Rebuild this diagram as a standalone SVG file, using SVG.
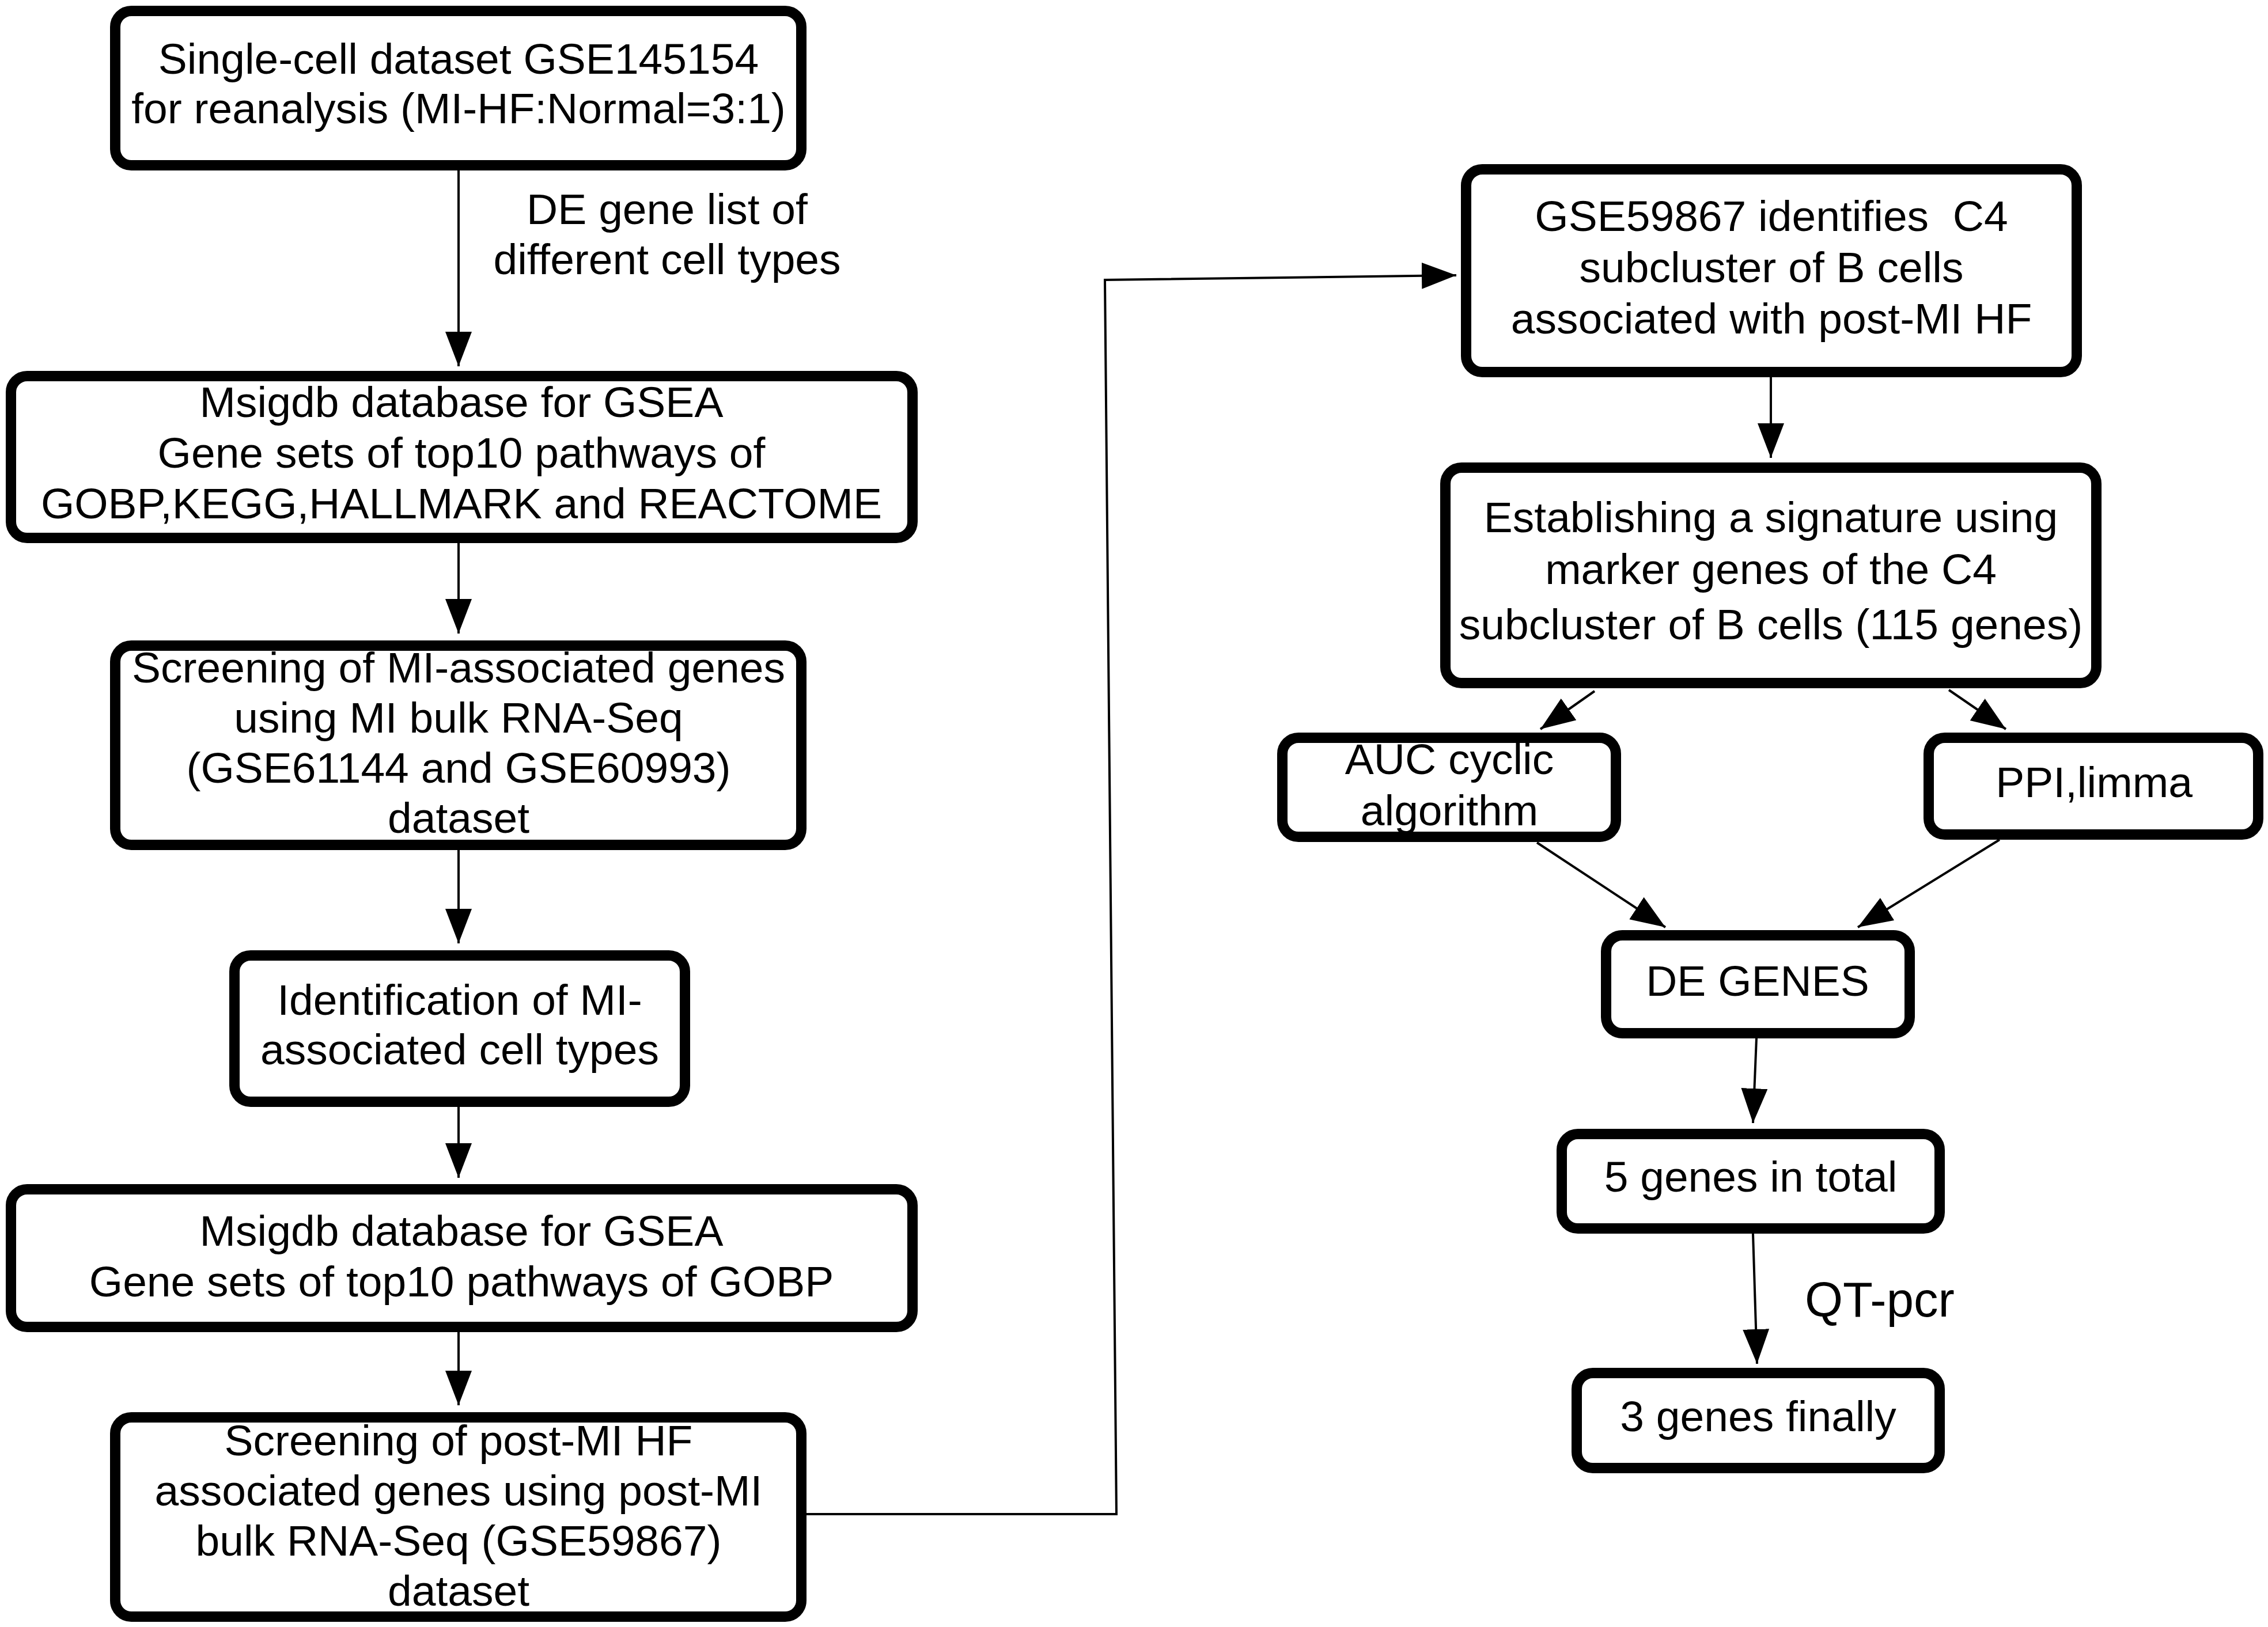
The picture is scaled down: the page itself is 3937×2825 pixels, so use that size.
<svg xmlns="http://www.w3.org/2000/svg" width="3937" height="2825" viewBox="0 0 3937 2825">
<defs>
<marker id="ah" markerUnits="userSpaceOnUse" markerWidth="62" markerHeight="48" refX="60" refY="23" orient="auto">
<path d="M0,0 L60,23 L0,46 Z" fill="#000"/>
</marker>
<style>
.box{fill:#fff;stroke:#000;stroke-width:18;}
.t{font-family:"Liberation Sans",Arial,Helvetica,sans-serif;font-size:75px;fill:#000;text-anchor:middle;}
.c{fill:none;stroke:#000;stroke-width:4;marker-end:url(#ah);}
</style>
</defs>
<rect width="3937" height="2825" fill="#fff"/>
<g id="connectors">
<line class="c" x1="796" y1="296" x2="796" y2="636"/>
<line class="c" x1="796" y1="943" x2="796" y2="1100"/>
<line class="c" x1="796" y1="1476" x2="796" y2="1638"/>
<line class="c" x1="796" y1="1922" x2="796" y2="2045"/>
<line class="c" x1="796" y1="2313" x2="796" y2="2440"/>
<polyline class="c" points="1400,2629 1938,2629 1918,486 2528,478"/>
<line class="c" x1="3074" y1="655" x2="3074" y2="795"/>
<line class="c" x1="2768" y1="1200" x2="2674" y2="1266"/>
<line class="c" x1="3383" y1="1198" x2="3482" y2="1266"/>
<line class="c" x1="2668" y1="1463" x2="2891" y2="1610"/>
<line class="c" x1="3471" y1="1458" x2="3225" y2="1610"/>
<line class="c" x1="3049" y1="1803" x2="3043" y2="1950"/>
<line class="c" x1="3043" y1="2142" x2="3050" y2="2368"/>
<text class="t" x="1158" y="389">DE gene list of</text>
<text class="t" x="1158" y="476">different cell types</text>
<text class="t" x="3133" y="2286" style="text-anchor:start;font-size:85px">QT-pcr</text>
</g>
<g id="n1">
<rect class="box" x="200" y="19" width="1191" height="268" rx="28"/>
<text class="t" x="796" y="128">Single-cell dataset GSE145154</text>
<text class="t" x="796" y="214">for reanalysis (MI-HF:Normal=3:1)</text>
</g>
<g id="n2">
<rect class="box" x="19" y="653" width="1565" height="281" rx="28"/>
<text class="t" x="801" y="724">Msigdb database for GSEA</text>
<text class="t" x="801" y="812">Gene sets of top10 pathways of</text>
<text class="t" x="801" y="900">GOBP,KEGG,HALLMARK and REACTOME</text>
</g>
<g id="n3">
<rect class="box" x="200" y="1121" width="1191" height="346" rx="28"/>
<text class="t" x="796" y="1185">Screening of MI-associated genes</text>
<text class="t" x="796" y="1272">using MI bulk RNA-Seq</text>
<text class="t" x="796" y="1359">(GSE61144 and GSE60993)</text>
<text class="t" x="796" y="1446">dataset</text>
</g>
<g id="n4">
<rect class="box" x="407" y="1659" width="782" height="254" rx="28"/>
<text class="t" x="798" y="1762">Identification of MI-</text>
<text class="t" x="798" y="1848">associated cell types</text>
</g>
<g id="n5">
<rect class="box" x="19" y="2065" width="1565" height="239" rx="28"/>
<text class="t" x="801" y="2163">Msigdb database for GSEA</text>
<text class="t" x="801" y="2251">Gene sets of top10 pathways of GOBP</text>
</g>
<g id="n6">
<rect class="box" x="200" y="2461" width="1191" height="346" rx="28"/>
<text class="t" x="796" y="2527">Screening of post-MI HF</text>
<text class="t" x="796" y="2614">associated genes using post-MI</text>
<text class="t" x="796" y="2701">bulk RNA-Seq (GSE59867)</text>
<text class="t" x="796" y="2788">dataset</text>
</g>
<g id="n7">
<rect class="box" x="2545" y="294" width="1060" height="352" rx="28"/>
<text class="t" x="3075" y="401" xml:space="preserve">GSE59867 identifies  C4</text>
<text class="t" x="3075" y="490">subcluster of B cells</text>
<text class="t" x="3075" y="579">associated with post-MI HF</text>
</g>
<g id="n8">
<rect class="box" x="2509" y="812" width="1130" height="374" rx="28"/>
<text class="t" x="3074" y="924">Establishing a signature using</text>
<text class="t" x="3074" y="1014">marker genes of the C4</text>
<text class="t" x="3074" y="1110">subcluster of B cells (115 genes)</text>
</g>
<g id="n9">
<rect class="box" x="2226" y="1281" width="579" height="172" rx="28"/>
<text class="t" x="2516" y="1344">AUC cyclic</text>
<text class="t" x="2516" y="1433">algorithm</text>
</g>
<g id="n10">
<rect class="box" x="3348" y="1281" width="572" height="168" rx="28"/>
<text class="t" x="3635" y="1384">PPI,limma</text>
</g>
<g id="n11">
<rect class="box" x="2788" y="1624" width="527" height="170" rx="28"/>
<text class="t" x="3051" y="1729">DE GENES</text>
</g>
<g id="n12">
<rect class="box" x="2711" y="1969" width="656" height="164" rx="28"/>
<text class="t" x="3039" y="2069">5 genes in total</text>
</g>
<g id="n13">
<rect class="box" x="2737" y="2384" width="630" height="165" rx="28"/>
<text class="t" x="3052" y="2485">3 genes finally</text>
</g>
</svg>
